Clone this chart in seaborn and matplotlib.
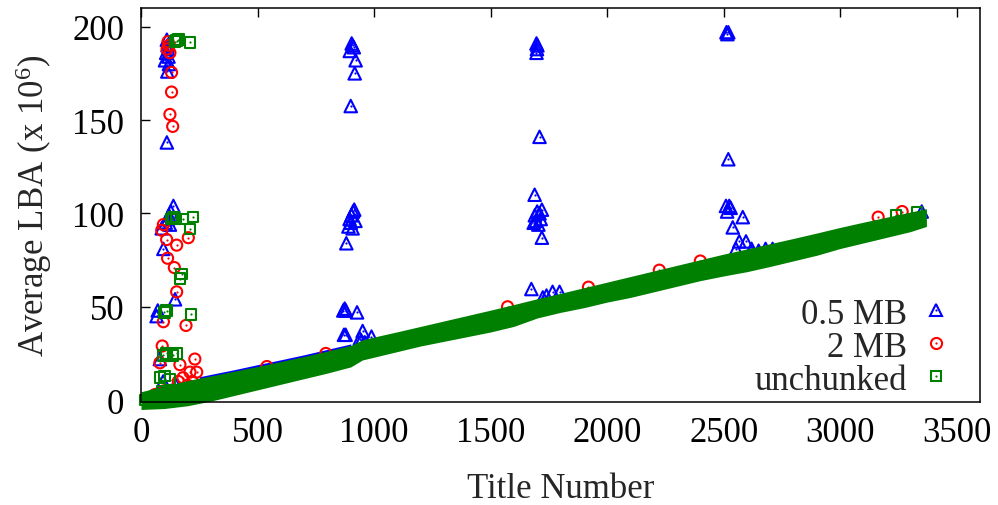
import matplotlib
matplotlib.use("Agg")
import matplotlib.pyplot as plt
import seaborn as sns
from matplotlib.lines import Line2D

# ---------------- data ----------------
series_names = ["0.5 MB", "2 MB", "unchunked"]
series_colors = ["#0000ff", "#ff0000", "#008000"]

# dense diagonal band (envelope of thousands of overlapping markers)
band_titles = [0, 100, 200, 300, 400, 500, 600, 700, 800, 900, 950, 1000, 1100, 1200,
               1300, 1400, 1500, 1600, 1700, 1800, 1900, 2000, 2100, 2200, 2300, 2400,
               2500, 2600, 2700, 2800, 2900, 3000, 3100, 3200, 3300, 3370]
band_top = [4.5, 7.5, 10.5, 13, 15.5, 18, 20.7, 23.4, 26.3, 29.3, 32.3, 33.8, 36.6, 39.5,
            42.4, 45.3, 48.2, 51.2, 54.3, 57.2, 60.2, 63.2, 66.2, 69.2, 72.2, 75.2,
            78.2, 81, 83.8, 86.6, 89.5, 92.5, 95.3, 98, 100.7, 102.5]
band_bottom = [-5, -4.5, -3, -0.5, 2.5, 5.5, 8.5, 11.5, 14.5, 17.8, 21.5, 23, 26, 29,
               31.5, 34, 36.5, 39.5, 44, 47, 49.5, 52.5, 55, 58, 61, 64,
               66.5, 68.8, 71.6, 74.6, 77.6, 81.2, 84.2, 87.2, 90.2, 93]

# part of the 0.5 MB band that shows above the unchunked band
blue_band_titles = [250, 300, 400, 500, 600, 700, 800, 900]
blue_band_top = [12.5, 13.8, 16.3, 19, 21.6, 24.3, 27.2, 30.1]
blue_band_bottom = [-1, 1, 4, 7, 10, 13, 16, 19.3]

# scattered points (title number, average LBA x 10^6)
blue_title = [103, 108, 111, 114, 116, 118, 120, 113, 111, 139, 128, 120, 114, 106, 124,
              89, 96, 146, 67, 72, 81, 95, 150, 180, 130,
              904, 913, 896, 908, 921, 917, 900, 903, 910, 915, 895, 900, 890, 920, 908,
              881, 874, 868, 879, 927, 871, 878, 951, 989, 939, 945, 960,
              1697, 1701, 1699, 1697, 1710, 1689, 1690, 1700, 1710, 1695, 1705, 1715, 1720,
              1685, 1720, 1675, 1724, 1766, 1796, 1740,
              2512, 2516, 2520, 2520, 2510, 2524, 2530, 2515, 2539, 2582, 2567, 2596, 2553,
              2620, 2650, 2680, 2710, 3350]
blue_lba = [182, 186, 193, 190, 188, 184, 180, 176, 138, 104, 101, 99, 97, 95, 94,
            92, 81, 54, 45, 48, 22, 10, 8, 6, 5,
            191, 189, 187, 190, 182, 175, 157.5, 99, 101, 102, 97, 95, 93, 96, 92,
            84, 49, 48, 48, 47, 35, 35, 37, 34, 33, 32, 31,
            191, 190, 188, 186, 141, 110, 99, 101, 100, 96, 94, 97, 102,
            95, 87, 59.5, 55, 58, 58, 56,
            197, 196, 197, 129, 104, 104, 103, 101, 92.5, 98, 85, 85, 81,
            81, 80, 81, 81, 101]

red_title = [116, 120, 112, 124, 131, 131, 124, 136,
             96, 89, 110, 153, 203, 114, 143, 153, 96, 193, 91, 81, 231, 167, 210, 239,
             180, 160, 200, 220, 100, 60,
             540, 793, 1573, 1920, 2224, 2400, 3163, 3266]
red_lba = [192, 190, 188, 186, 175.5, 165, 153, 146.6,
           94, 91, 86, 83, 87, 76, 71, 58, 42, 40, 29, 20, 22, 19, 15, 15,
           12, 10, 8, 10, 5, 3,
           18, 25, 50, 60.5, 69.6, 74.5, 98, 101]

green_title = [153, 160, 145, 210, 131, 140, 150, 181, 224, 210, 174, 167, 110, 100, 214,
               96, 110, 137, 153, 81, 124, 100, 90, 60, 40, 20, 130, 3240, 3330]
green_lba = [192.5, 193, 192, 191.6, 97, 98, 97, 97, 98, 91.6, 67.5, 65, 48, 47, 46,
             24, 25, 24, 25, 12, 11, 13, 5, 2, 0, 0, 1, 99, 100.5]

x_ticks = [0, 500, 1000, 1500, 2000, 2500, 3000, 3500]
y_ticks = [0, 50, 100, 150, 200]

# ---------------- style ----------------
sns.set_style("white")
plt.rcParams["font.family"] = ["Liberation Serif", "DejaVu Serif"]
plt.rcParams["mathtext.fontset"] = "custom"
plt.rcParams["mathtext.rm"] = "Liberation Serif"
plt.rcParams["mathtext.it"] = "Liberation Serif:italic"

FS = 25
fig = plt.figure(figsize=(9.98, 5.06), dpi=100)
ax = fig.add_axes([141 / 998, 1 - 403 / 506, (980 - 141) / 998, (403 - 9) / 506])

markers = ["^", "o", "s"]
msizes = [9.0, 8.0, 7.6]
LW = 1.5


def draw_points(xs, ys, idx, z):
    c = series_colors[idx]
    sns.scatterplot(x=xs, y=ys, marker=markers[idx], s=msizes[idx] ** 2,
                    color=c, facecolor="none", edgecolor=c, linewidth=LW,
                    ax=ax, zorder=z, clip_on=False, legend=False)
    sns.scatterplot(x=xs, y=ys, marker="o", s=2.5, color=c, linewidth=0,
                    ax=ax, zorder=z + 0.1, clip_on=False, legend=False)


# 0.5 MB
ax.fill_between(blue_band_titles, blue_band_bottom, blue_band_top,
                color=series_colors[0], linewidth=0, zorder=1)
draw_points(blue_title, blue_lba, 0, 1.5)
# 2 MB
draw_points(red_title, red_lba, 1, 2.5)
# unchunked
ax.fill_between(band_titles, band_bottom, band_top, color=series_colors[2],
                linewidth=0, zorder=3, clip_on=False)
draw_points(green_title, green_lba, 2, 3.5)

ax.set_xlim(0, 3600)
ax.set_ylim(-1, 210)
ax.set_xticks(x_ticks)
ax.set_yticks(y_ticks)
ax.set_xticklabels([str(v) for v in x_ticks], fontsize=FS)
ax.set_yticklabels([str(v) for v in y_ticks], fontsize=FS)
ax.tick_params(axis="x", direction="in", length=6.5, width=1.0, top=True, pad=10,
               colors="black")
ax.tick_params(axis="y", direction="in", length=6.5, width=1.0, right=False, left=True,
               pad=12, colors="black")
for sp in ax.spines.values():
    sp.set_color("black")
    sp.set_linewidth(1.1)
    sp.set_zorder(10)

ax.set_xlabel("Title Number", fontsize=FS, labelpad=17)
ax.set_ylabel("Average LBA (x 10$^{6}$)", fontsize=FS, labelpad=13)

handles = []
for i in range(3):
    c = series_colors[i]
    h = Line2D([], [], marker=markers[i], ls="none", mfc="none", mec=c, mew=LW,
               ms=msizes[i])
    d = Line2D([], [], marker="o", ls="none", color=c, ms=1.6, mew=0)
    handles.append((h, d))
ax.legend(handles, series_names, loc="lower right", bbox_to_anchor=(0.997, -0.048),
          markerfirst=False, frameon=False, fontsize=FS, handlelength=1.0,
          handletextpad=0.34, labelspacing=0.0, borderpad=0.2)

fig.savefig("out.png", dpi=100)
